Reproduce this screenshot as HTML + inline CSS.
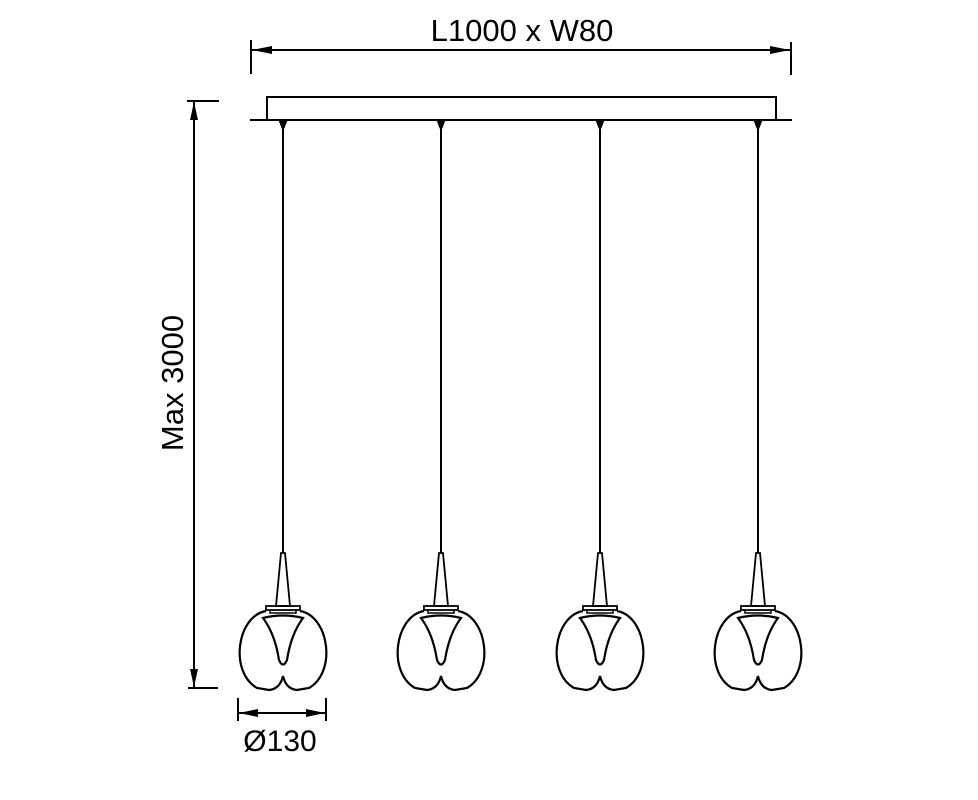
<!DOCTYPE html>
<html><head><style>html,body{margin:0;padding:0;background:#fff}svg{display:block}</style></head>
<body>
<svg width="978" height="800" viewBox="0 0 978 800" xmlns="http://www.w3.org/2000/svg">
<defs>
<g id="lamp" fill="none" stroke="#000" stroke-width="2">
  <line x1="0" y1="120" x2="0" y2="553" stroke-width="2"/>
  <path d="M-4,120 L4,120 L1,128 L-1,128 Z" fill="#000" stroke-width="1"/>
  <path d="M-2,553 L2,553 L7,606 L-7,606 Z" stroke-width="1.8"/>
  <rect x="-17" y="606" width="34" height="4" stroke-width="1.8"/>
  <path d="M-13,610 L-13,613 L13,613 L13,610" stroke-width="1.5"/>
  <path d="M-17,611 C-46,616 -54,672 -26,688 L-14,690 Q-3,689 0,676 Q3,689 14,690 L26,688 C54,672 46,616 17,611" stroke-width="2.2"/>
  <path d="M-20,618 Q0,613 20,618 Q8,634 4,660 Q0,669 -4,660 Q-8,634 -20,618 Z" stroke-width="2.2"/>
</g>
</defs>
<g stroke="#000" fill="#000">
  <line x1="251" y1="40" x2="251" y2="74" stroke-width="2"/>
  <line x1="791" y1="42" x2="791" y2="75" stroke-width="2"/>
  <line x1="251" y1="50" x2="791" y2="50" stroke-width="2"/>
  <path d="M252,50 L272,46 L272,54 Z" stroke="none"/>
  <path d="M790,50 L770,46 L770,54 Z" stroke="none"/>
</g>
<text x="522" y="41" font-family="Liberation Sans, sans-serif" font-size="31" text-anchor="middle">L1000 x W80</text>
<g fill="none" stroke="#000" stroke-width="2">
  <rect x="267" y="97" width="509" height="23"/>
  <line x1="250" y1="120" x2="792" y2="120"/>
</g>
<g stroke="#000" fill="#000">
  <line x1="187" y1="101" x2="219" y2="101" stroke-width="2"/>
  <line x1="188" y1="688" x2="218" y2="688" stroke-width="2"/>
  <line x1="194" y1="101" x2="194" y2="688" stroke-width="2"/>
  <path d="M194,102 L190,120 L198,120 Z" stroke="none"/>
  <path d="M194,687 L190,669 L198,669 Z" stroke="none"/>
</g>
<text transform="translate(183,383) rotate(-90)" font-family="Liberation Sans, sans-serif" font-size="31" text-anchor="middle">Max 3000</text>
<g stroke="#000" fill="#000">
  <line x1="238" y1="698" x2="238" y2="721" stroke-width="2"/>
  <line x1="326" y1="698" x2="326" y2="721" stroke-width="2"/>
  <line x1="238" y1="713" x2="326" y2="713" stroke-width="2"/>
  <path d="M239,713 L258,709 L258,717 Z" stroke="none"/>
  <path d="M325,713 L306,709 L306,717 Z" stroke="none"/>
</g>
<text x="280" y="751" font-family="Liberation Sans, sans-serif" font-size="30" text-anchor="middle">Ø130</text>
<use href="#lamp" x="283"/>
<use href="#lamp" x="441"/>
<use href="#lamp" x="600"/>
<use href="#lamp" x="758"/>
</svg>
</body></html>
